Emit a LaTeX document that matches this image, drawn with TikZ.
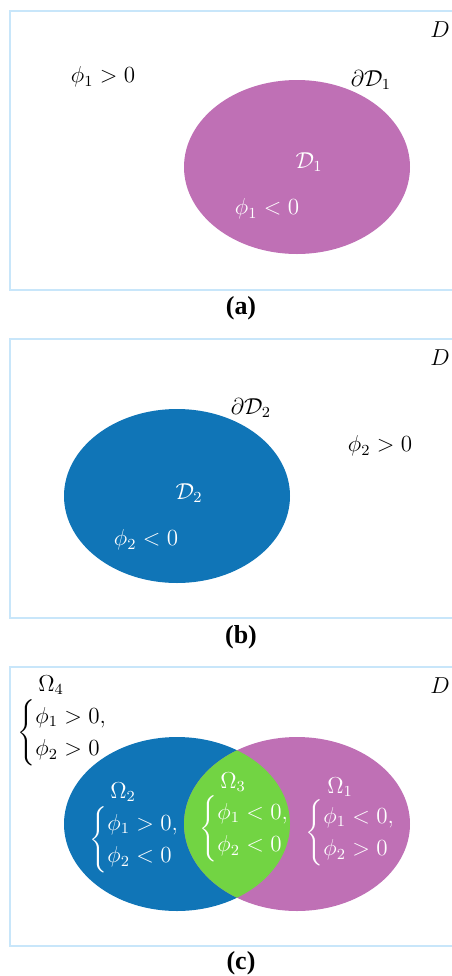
\documentclass[tikz,border=0pt]{standalone}
\usepackage{amsmath}
\usepackage{amssymb}
\usepackage{xcolor}
\usepackage{fontspec}
\newfontfamily\capfont{Liberation Serif}
\usetikzlibrary{positioning}

\definecolor{regpurple}{RGB}{191,112,181}
\definecolor{regblue}{RGB}{16,117,183}
\definecolor{reggreen}{RGB}{114,212,67}
\definecolor{boxblue}{RGB}{200,230,250}

\begin{document}
\begin{tikzpicture}[x=0.52pt, y=-0.52pt,
      dombox/.style={draw=boxblue, line width=1.4pt},
      lab/.style={font=\fontsize{11.5}{14}\selectfont, inner sep=1pt},
      inlab/.style={lab, text=white},
      caption/.style={font=\capfont\bfseries\fontsize{13.5}{15}\selectfont}
    ]
    \clip (0,0) rectangle (452,976);

    % (a)
    \draw[dombox] (10,11) rectangle (470,290);
    \fill[regpurple] (297,167) ellipse [x radius=113, y radius=87];
    \node[lab]   (Da)    at (440,30)  {$D$};
    \node[lab]   (pospa) at (103,77)  {$\phi_1>0$};
    \node[lab]   (bnda)  at (371,80)  {$\partial\mathcal{D}_1$};
    \node[inlab] (rega)  at (309,162) {$\mathcal{D}_1$};
    \node[inlab] (negpa) at (267,209) {$\phi_1<0$};
    \node[caption] (capa) at (241,308) {(a)};

    % (b)
    \draw[dombox] (10,339) rectangle (470,618);
    \fill[regblue] (177,496) ellipse [x radius=113, y radius=87];
    \node[lab]   (Db)    at (440,358) {$D$};
    \node[lab]   (bndb)  at (251,408) {$\partial\mathcal{D}_2$};
    \node[lab]   (pospb) at (380,446) {$\phi_2>0$};
    \node[inlab] (regb)  at (189,493) {$\mathcal{D}_2$};
    \node[inlab] (negpb) at (146,540) {$\phi_2<0$};
    \node[caption] (capb) at (241,637) {(b)};

    % (c)
    \draw[dombox] (10,667) rectangle (470,946);
    \fill[regblue]   (177,824) ellipse [x radius=113, y radius=87];
    \fill[regpurple] (297,824) ellipse [x radius=113, y radius=87];
    \begin{scope}
      \clip (177,824) ellipse [x radius=113, y radius=87];
      \fill[reggreen] (297,824) ellipse [x radius=113, y radius=87];
    \end{scope}
    \node[lab]   (Dc)   at (440,686) {$D$};
    \node[lab]   (om4)  at (51,685)  {$\Omega_4$};
    \node[lab]   (cs4)  at (74,733)  {$\begin{cases}\phi_1>0,\\\phi_2>0\end{cases}$};
    \node[inlab] (om2)  at (123,792) {$\Omega_2$};
    \node[inlab] (cs2)  at (146,840) {$\begin{cases}\phi_1>0,\\\phi_2<0\end{cases}$};
    \node[inlab] (om3)  at (233,782) {$\Omega_3$};
    \node[inlab] (cs3)  at (256,829) {$\begin{cases}\phi_1<0,\\\phi_2<0\end{cases}$};
    \node[inlab] (om1)  at (340,787) {$\Omega_1$};
    \node[inlab] (cs1)  at (362,833) {$\begin{cases}\phi_1<0,\\\phi_2>0\end{cases}$};
    \node[caption] (capc) at (241,963) {(c)};
  \end{tikzpicture}
\end{document}
